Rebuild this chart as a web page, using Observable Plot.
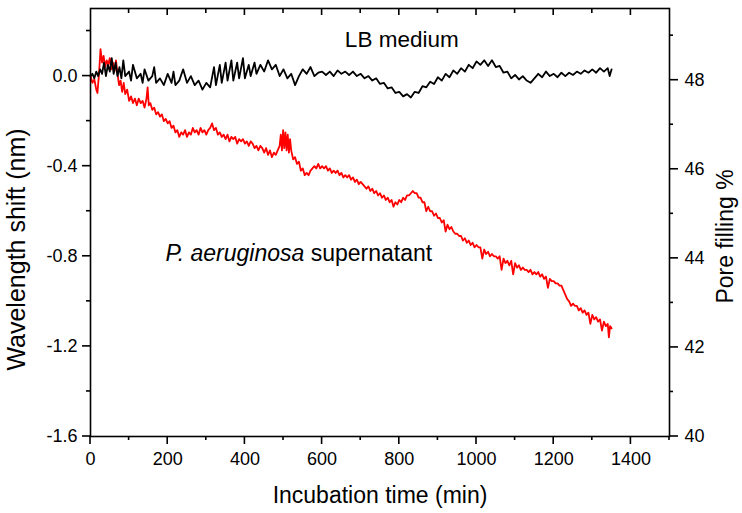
<!DOCTYPE html>
<html>
<head>
<meta charset="utf-8">
<script src="https://cdn.jsdelivr.net/npm/d3@7"></script>
<script src="https://cdn.jsdelivr.net/npm/@observablehq/plot@0.6"></script>
<style>
  body { margin: 0; background: #fff; }
  #chart svg { font-family: 'Liberation Sans', Arial, sans-serif; }
</style>
</head>
<body>
<div id="chart"></div>
<script>
// LB medium (black) - wavelength shift in nm vs incubation time in min
const lbTime = [0,5,10,15,20,25,30,35,40,45,50,55,60,65,70,75,80,85,90,100,105,110,120,130,135,140,150,160,165,170,180,190,200,210,215,220,230,240,250,260,270,280,290,300,310,320,325,335,340,350,355,365,370,380,385,395,400,410,415,425,430,440,450,460,470,480,490,500,510,520,530,540,550,560,570,580,590,
  600,610,620,630,640,650,660,670,680,690,700,710,720,730,740,750,760,770,780,790,800,810,820,830,840,850,860,870,880,890,900,910,920,930,940,950,960,970,980,990,1000,1010,1020,1030,1040,1050,1060,1070,1080,1090,1100,1110,1120,1130,1140,1150,1160,1170,1180,1190,1200,1210,1220,1230,1240,1250,1260,1270,1280,1290,1300,1310,1320,1330,1340,1345,1350];
const lbShift = [0,0.01,-0.01,0.02,0,0.03,0.01,0.06,0,0.05,0.02,0.08,0.01,0.06,0,0.04,-0.01,0.07,0,0.02,-0.02,0.05,-0.01,0.01,-0.03,0.03,-0.02,0,0.04,-0.03,-0.01,-0.04,0.01,-0.03,0.02,-0.04,-0.02,0.03,-0.03,0,-0.04,-0.02,-0.06,-0.03,-0.05,0.04,-0.04,0.05,-0.03,0.06,-0.02,0.07,-0.02,0.06,-0.01,0.08,-0.01,0.05,0,0.06,0.01,0.05,0.02,0.07,0.03,0.05,0,0.03,-0.01,0.01,-0.04,0,0.03,0.01,0.04,0,0.015,
  0.02,0.005,0.02,0,0.025,0.01,0.02,0.005,0.02,0,0.01,-0.01,0,-0.02,-0.01,-0.035,-0.03,-0.055,-0.05,-0.075,-0.07,-0.09,-0.08,-0.095,-0.07,-0.075,-0.045,-0.05,-0.025,-0.035,-0.005,-0.02,0.01,-0.005,0.025,0.01,0.035,0.02,0.05,0.035,0.065,0.05,0.07,0.045,0.07,0.04,0.045,0.015,0.02,-0.01,0.005,-0.015,0,-0.02,-0.03,-0.01,0.01,-0.005,0.02,0,0.01,-0.005,0.015,0,0.015,0.005,0.02,0.01,0.025,0.015,0.03,0.015,0.035,0.02,0.035,0,0.03];

// P. aeruginosa supernatant (red)
const paTime = [0,5,10,15,18,22,26,30,34,38,42,46,50,54,58,62,66,70,74,78,82,86,90,95,100,105,110,115,120,125,130,135,140,145,148,151,155,160,165,170,175,180,185,190,195,200,205,210,215,220,225,230,235,240,245,250,255,260,265,270,275,280,285,290,295,300,305,310,315,320,325,330,335,340,345,350,355,360,365,370,375,380,385,390,395,400,405,410,415,420,425,430,435,440,445,450,455,460,465,470,475,480,485,490,493,496,499,502,505,508,511,514,517,520,525,530,535,540,545,550,555,560,565,570,575,580,585,590,595,600,605,610,615,620,625,630,635,640,645,650,655,660,665,670,675,680,685,690,695,700,705,710,715,720,725,730,735,740,745,750,755,760,765,770,775,780,785,790,795,800,805,810,815,820,825,830,835,840,845,850,855,860,865,870,875,880,885,890,895,900,905,910,915,920,925,930,935,940,945,950,955,960,965,970,975,980,985,990,995,1000,1005,1010,1015,1020,1025,1030,1035,1040,1045,1050,1055,1060,1065,1070,1075,1080,1085,1090,1095,1100,1105,1110,1115,1120,1125,1130,1135,1140,1145,1150,1155,1160,1165,1170,1175,1180,1185,1190,1195,1200,1205,1210,1215,1220,1225,1230,1235,1240,1245,1250,1255,1260,1265,1270,1275,1280,1285,1290,1295,1300,1305,1310,1315,1320,1325,1330,1335,1340,1343,1346,1350];
const paShift = [0,-0.03,-0.015,-0.06,-0.075,0.01,0.12,0.06,0.09,0.04,0.07,0.05,0.08,0.03,0.06,0.02,0.07,0.01,-0.04,-0.02,-0.07,-0.03,-0.08,-0.06,-0.11,-0.09,-0.12,-0.1,-0.13,-0.1,-0.12,-0.11,-0.14,-0.1,-0.05,-0.13,-0.12,-0.15,-0.14,-0.17,-0.16,-0.18,-0.17,-0.2,-0.19,-0.21,-0.2,-0.23,-0.22,-0.25,-0.24,-0.27,-0.25,-0.26,-0.24,-0.27,-0.25,-0.26,-0.23,-0.25,-0.24,-0.26,-0.23,-0.25,-0.24,-0.26,-0.24,-0.23,-0.21,-0.24,-0.23,-0.26,-0.25,-0.27,-0.26,-0.28,-0.26,-0.29,-0.27,-0.28,-0.27,-0.3,-0.28,-0.29,-0.28,-0.3,-0.29,-0.31,-0.29,-0.3,-0.32,-0.31,-0.33,-0.31,-0.32,-0.34,-0.32,-0.35,-0.33,-0.36,-0.34,-0.35,-0.33,-0.31,-0.26,-0.33,-0.24,-0.32,-0.25,-0.33,-0.26,-0.34,-0.28,-0.33,-0.37,-0.36,-0.39,-0.38,-0.42,-0.41,-0.44,-0.43,-0.44,-0.42,-0.41,-0.4,-0.41,-0.39,-0.41,-0.4,-0.41,-0.4,-0.42,-0.41,-0.43,-0.42,-0.43,-0.42,-0.44,-0.43,-0.45,-0.44,-0.45,-0.44,-0.46,-0.45,-0.47,-0.46,-0.48,-0.47,-0.48,-0.49,-0.5,-0.49,-0.51,-0.5,-0.52,-0.51,-0.53,-0.52,-0.54,-0.53,-0.55,-0.54,-0.56,-0.55,-0.58,-0.56,-0.57,-0.55,-0.56,-0.54,-0.55,-0.53,-0.53,-0.52,-0.51,-0.52,-0.52,-0.54,-0.54,-0.56,-0.56,-0.6,-0.58,-0.6,-0.6,-0.62,-0.61,-0.63,-0.63,-0.65,-0.64,-0.69,-0.66,-0.68,-0.67,-0.69,-0.7,-0.7,-0.71,-0.71,-0.73,-0.72,-0.74,-0.73,-0.75,-0.74,-0.76,-0.75,-0.76,-0.76,-0.81,-0.77,-0.79,-0.78,-0.8,-0.79,-0.8,-0.8,-0.81,-0.8,-0.86,-0.81,-0.83,-0.82,-0.84,-0.82,-0.88,-0.83,-0.85,-0.84,-0.86,-0.85,-0.86,-0.86,-0.87,-0.86,-0.88,-0.87,-0.88,-0.87,-0.89,-0.88,-0.9,-0.89,-0.94,-0.9,-0.91,-0.91,-0.92,-0.92,-0.93,-0.93,-0.95,-0.97,-0.99,-1.0,-1.02,-1.01,-1.02,-1.02,-1.04,-1.03,-1.05,-1.04,-1.06,-1.05,-1.1,-1.06,-1.08,-1.07,-1.09,-1.08,-1.13,-1.09,-1.11,-1.1,-1.16,-1.11,-1.12];

const xTicks = [0,200,400,600,800,1000,1200,1400];
const xMinor = [100,300,500,700,900,1100,1300,1500];
const topTicks = [200,400,600,800,1000,1200,1400];
const topMinor = [100,300,500,700,900,1100,1300];
const yTicks = [-1.6,-1.2,-0.8,-0.4,0];
const yMinor = [-1.4,-1.0,-0.6,-0.2,0.2];
const poreTicks = [40,42,44,46,48];
const poreMinor = [41,43,45,47,49];

const xDomain = [0, 1500];
const yDomain = [-1.6, 0.3];

// right axis: pore filling % shares the plot with the shift axis
const poreToShift = d3.scaleLinear([40, 49.61], yDomain);

const lb = lbTime.map((t, i) => ({t, v: lbShift[i]}));
const pa = paTime.map((t, i) => ({t, v: paShift[i]}));

// tick sizes are given in pixels, turned into data units of each scale
const W = 742, H = 513, mL = 90, mR = 73, mT = 8, mB = 77;
const px = (W - mL - mR) / (xDomain[1] - xDomain[0]);
const py = (H - mT - mB) / (yDomain[1] - yDomain[0]);
const tw = 1.6; // tick thickness in px

// ticks as thin filled bars, so they show up whatever the line rendering
const tickX = (vals, len, atTop) => Plot.rect(vals, {
  x1: d => d - tw / 2 / px,
  x2: d => d + tw / 2 / px,
  y1: atTop ? yDomain[1] : yDomain[0],
  y2: atTop ? yDomain[1] - len / py : yDomain[0] - len / py,
  fill: "#000"
});
const tickY = (vals, len, atRight) => Plot.rect(vals, {
  y1: d => d - tw / 2 / py,
  y2: d => d + tw / 2 / py,
  x1: atRight ? xDomain[1] : xDomain[0],
  x2: atRight ? xDomain[1] + len / px : xDomain[0] - len / px,
  fill: "#000"
});

const lab = {tickSize: 0, fontSize: 18, label: null, fill: "#000", stroke: null};

const chart = Plot.plot({
  width: W,
  height: H,
  marginLeft: mL,
  marginRight: mR,
  marginTop: mT,
  marginBottom: mB,
  x: {domain: xDomain},
  y: {domain: yDomain},
  marks: [
    Plot.line(pa, {x: "t", y: "v", stroke: "#ff0000", strokeWidth: 1.8}),
    Plot.line(lb, {x: "t", y: "v", stroke: "#000", strokeWidth: 1.8}),
    Plot.frame({stroke: "#000", strokeWidth: 1.6}),
    tickX(xTicks, 8, false),
    tickX(xMinor, 4, false),
    tickX(topTicks, 7, true),
    tickX(topMinor, 5, true),
    tickY(yTicks, 8, false),
    tickY(yMinor, 4, false),
    tickY(poreTicks.map(poreToShift), 9, true),
    tickY(poreMinor.map(poreToShift), 4, true),
    Plot.axisX(xTicks, {...lab, tickPadding: 16, tickFormat: d => String(d)}),
    Plot.axisY(yTicks, {...lab, tickPadding: 13, tickFormat: d => d.toFixed(1)}),
    Plot.axisY(poreTicks.map(poreToShift), {...lab, anchor: "right", tickPadding: 15,
      tickFormat: d => String(Math.round(poreToShift.invert(d)))}),
    Plot.text(["LB medium"], {x: 659, y: 0.16, text: d => d, textAnchor: "start", lineAnchor: "middle", fontSize: 22.5}),
    Plot.text(["P. aeruginosa supernatant"], {x: 194, y: -0.787, text: d => d, textAnchor: "start", lineAnchor: "middle", fontSize: 23}),
    Plot.text(["Incubation time (min)"], {frameAnchor: "bottom", text: d => d, dy: 59, textAnchor: "middle", lineAnchor: "middle", fontSize: 23}),
    Plot.text(["Wavelength shift (nm)"], {frameAnchor: "left", text: d => d, dx: -74, dy: 27, rotate: -90, textAnchor: "middle", lineAnchor: "middle", fontSize: 25}),
    Plot.text(["Pore filling %"], {frameAnchor: "right", text: d => d, dx: 56, dy: 14, rotate: -90, textAnchor: "middle", lineAnchor: "middle", fontSize: 23})
  ]
});

// italic species name inside the annotation
d3.select(chart).selectAll("text")
  .filter(function() { return this.textContent === "P. aeruginosa supernatant"; })
  .each(function() {
    const el = d3.select(this);
    el.text(null);
    el.append("tspan").attr("font-style", "italic").text("P. aeruginosa");
    el.append("tspan").text(" supernatant");
  });

d3.select('#chart').append(() => chart);
</script>
</body>
</html>
